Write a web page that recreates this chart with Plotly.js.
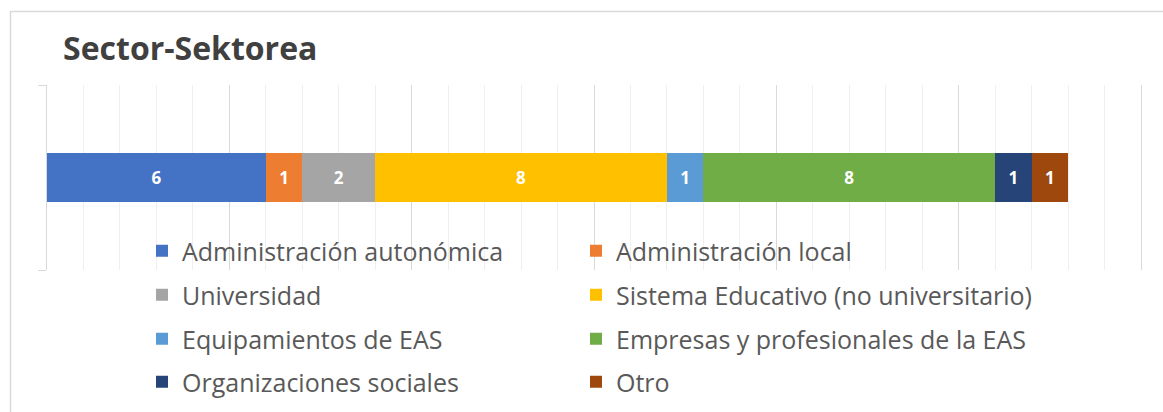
<!DOCTYPE html>
<html>
<head>
<meta charset="utf-8">
<script src="https://cdn.plot.ly/plotly-3.0.1.min.js"></script>
<style>html,body{margin:0;padding:0;background:#fff;}#chart{width:1163px;height:412px;}</style>
</head>
<body>
<div id="chart"></div>
<script>
const categories = ["Sector"];
const seriesNames = [
  "Administración autonómica",
  "Administración local",
  "Universidad",
  "Sistema Educativo (no universitario)",
  "Equipamientos de EAS",
  "Empresas y profesionales de la EAS",
  "Organizaciones sociales",
  "Otro"
];
const seriesValues = [6, 1, 2, 8, 1, 8, 1, 1];
const seriesColors = ["#4472C4", "#ED7D31", "#A5A5A5", "#FFC000", "#5B9BD5", "#70AD47", "#264478", "#9E480E"];
const axisMax = 30;

const W = 1163, H = 412;
const L = 47, R = 18, T = 85, B = 142;
const plotW = W - L - R, plotH = H - T - B;
const unitPx = (1141 - L) / axisMax;
const px2x = p => (p - L) / plotW;
const py2y = p => (H - B - p) / plotH;

const legendIds = ['legend', 'legend2', 'legend3', 'legend4'];
const rowCenters = [251, 295, 339, 382];

const traces = seriesNames.map((name, i) => ({
  type: 'bar',
  orientation: 'h',
  name: name,
  y: [0],
  x: [seriesValues[i]],
  width: 0.27,
  marker: {color: seriesColors[i], line: {width: 0}},
  text: [String(seriesValues[i])],
  textposition: 'inside',
  insidetextanchor: 'middle',
  textangle: 0,
  constraintext: 'none',
  textfont: {family: 'Open Sans', size: 17, color: '#ffffff', weight: 'bold'},
  hoverinfo: 'name+x',
  legend: legendIds[Math.floor(i / 2)],
  legendwidth: (i % 2 === 0) ? 389 : 470
}));

const legendCommon = {
  orientation: 'h',
  bgcolor: 'rgba(0,0,0,0)',
  font: {family: 'Open Sans', size: 25, color: '#595959'},
  entrywidthmode: 'pixels',
  traceorder: 'normal',
  xanchor: 'left',
  yanchor: 'middle',
  itemclick: false,
  itemdoubleclick: false
};

const layout = {
  width: W,
  height: H,
  margin: {l: L, r: R, t: T, b: B, autoexpand: false},
  paper_bgcolor: '#ffffff',
  plot_bgcolor: '#ffffff',
  barmode: 'stack',
  bargap: 0,
  showlegend: true,
  title: {
    text: 'Sector-Sektorea',
    font: {family: 'Open Sans', size: 32, color: '#404040', weight: 'bold'},
    xref: 'container', yref: 'container',
    x: 63 / W, xanchor: 'left',
    y: 1 - 49 / H, yanchor: 'middle'
  },
  xaxis: {
    range: [0, plotW / unitPx],
    tickmode: 'linear',
    tick0: 0,
    dtick: 5,
    showgrid: true,
    gridcolor: '#d9d9d9',
    gridwidth: 1,
    minor: {dtick: 1, showgrid: true, gridcolor: '#efefef', gridwidth: 1},
    showticklabels: false,
    zeroline: false,
    showline: false,
    fixedrange: true
  },
  yaxis: {
    range: [-0.5, 0.5],
    tickmode: 'array',
    tickvals: [-0.5, 0.5],
    ticks: 'outside',
    ticklen: 8,
    tickcolor: '#d9d9d9',
    showticklabels: false,
    showgrid: false,
    zeroline: false,
    showline: true,
    linecolor: '#d9d9d9',
    linewidth: 1,
    fixedrange: true
  },
  shapes: [{
    type: 'rect', xref: 'paper', yref: 'paper',
    x0: px2x(10.5), x1: px2x(1200), y0: py2y(450), y1: py2y(11.5),
    line: {color: '#d9d9d9', width: 1.5},
    fillcolor: 'rgba(0,0,0,0)',
    layer: 'below'
  }]
};
legendIds.forEach((id, r) => {
  layout[id] = Object.assign({}, legendCommon, {x: px2x(142), y: py2y(rowCenters[r])});
});

Plotly.newPlot('chart', traces, layout, {displayModeBar: false, staticPlot: true});
</script>
</body>
</html>
